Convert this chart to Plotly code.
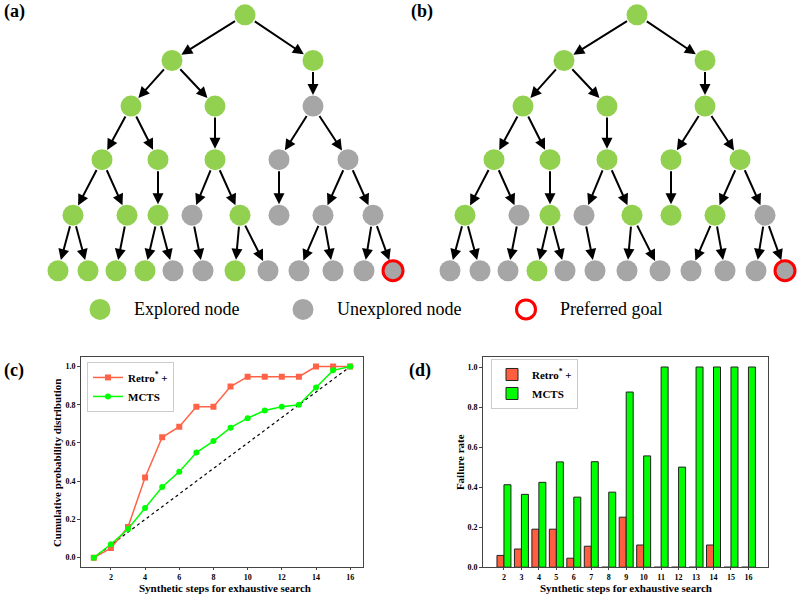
import plotly.graph_objects as go

# ---------------- data ----------------
steps_c = list(range(1, 17))
retro_cdf = [0.0, 0.05, 0.16, 0.42, 0.63, 0.685, 0.79, 0.79, 0.895, 0.947, 0.947, 0.947, 0.947, 1.0, 1.0, 1.0]
mcts_cdf = [0.0, 0.07, 0.15, 0.26, 0.37, 0.45, 0.55, 0.61, 0.68, 0.73, 0.77, 0.79, 0.80, 0.89, 0.98, 1.0]
diag_x = [1, 16]
diag_y = [0.0, 1.0]

steps_d = list(range(2, 17))
retro_fail = [0.059, 0.091, 0.19, 0.19, 0.045, 0.105, 0.0, 0.25, 0.111, 0.0, 0.0, 0.0, 0.111, 0.0, 0.0]
mcts_fail = [0.412, 0.364, 0.424, 0.526, 0.35, 0.527, 0.375, 0.875, 0.556, 1.0, 0.5, 1.0, 1.0, 1.0, 1.0]

# tree structure (same for panels a and b)
parents = [None, 0, 0, 1, 1, 2, 3, 3, 4, 5, 5, 6, 6, 7, 8, 8, 9, 10, 10,
           11, 11, 12, 13, 13, 14, 15, 15, 17, 17, 18, 18]
depth = [0, 1, 1, 2, 2, 2, 3, 3, 3, 3, 3, 4, 4, 4, 4, 4, 4, 4, 4,
         5, 5, 5, 5, 5, 5, 5, 5, 5, 5, 5, 5]
explored_a = [1, 1, 1, 1, 1, 0, 1, 1, 1, 0, 0, 1, 1, 1, 0, 1, 0, 0, 0,
              1, 1, 1, 1, 0, 0, 1, 0, 0, 0, 0, 0]
explored_b = [1, 1, 1, 1, 1, 1, 1, 1, 1, 1, 1, 1, 0, 1, 0, 1, 1, 1, 0,
              0, 0, 0, 1, 0, 0, 0, 0, 0, 0, 0, 0]
goal_node = 30
legend_labels = ["Explored node", "Unexplored node", "Preferred goal"]

# ---------------- diagram layout (drawing units) ----------------
node_x = [245, 172, 313, 131, 215, 313, 102, 158, 215, 279, 348, 73, 127, 158, 192, 240, 279, 323, 373,
          58, 88, 116, 145, 173, 203, 235, 268, 299, 333, 364, 393]
level_y = [15, 61, 107, 161, 217, 273]
tree_offsets = [0, 392]
GREEN = "#92D050"
GREY = "#A6A6A6"
RED = "#FF0000"
SERIF = "Liberation Serif"

fig = go.Figure()

annotations = []
for off, expl in zip(tree_offsets, [explored_a, explored_b]):
    xs = [x + off for x in node_x]
    ys = [level_y[d] for d in depth]
    for i, p in enumerate(parents):
        if p is None:
            continue
        annotations.append(dict(
            x=xs[i], y=ys[i], ax=xs[p], ay=ys[p],
            xref="x3", yref="y3", axref="x3", ayref="y3",
            text="", showarrow=True, arrowhead=2, arrowsize=1.1, arrowwidth=2,
            arrowcolor="black", standoff=11, startstandoff=10))
    fig.add_trace(go.Scatter(
        x=xs, y=ys, mode="markers", xaxis="x3", yaxis="y3", showlegend=False,
        hoverinfo="skip",
        marker=dict(size=21, opacity=1, color=[GREEN if e else GREY for e in expl], line=dict(width=0))))
    fig.add_trace(go.Scatter(
        x=[xs[goal_node]], y=[ys[goal_node]], mode="markers", xaxis="x3", yaxis="y3",
        showlegend=False, hoverinfo="skip",
        marker=dict(size=20, opacity=1, color=GREY if not expl[goal_node] else GREEN,
                    line=dict(width=3, color=RED))))

# diagram legend row
leg_x = [100, 303, 526]
leg_y = 312
fig.add_trace(go.Scatter(
    x=leg_x, y=[leg_y] * 3, mode="markers", xaxis="x3", yaxis="y3", showlegend=False,
    hoverinfo="skip",
    marker=dict(size=[21, 21, 19], opacity=1, color=[GREEN, GREY, "white"],
                line=dict(width=[0, 0, 3], color=[GREEN, GREY, RED]))))
for lx, lab in zip(leg_x, legend_labels):
    annotations.append(dict(x=lx + 32, y=leg_y, xref="x3", yref="y3", text=lab, showarrow=False,
                            xanchor="left", yanchor="middle",
                            font=dict(family=SERIF, size=18, color="black")))

# ---------------- panel (c) ----------------
RED_C = "#FF6347"
LIME = "#00FF00"
fig.add_trace(go.Scatter(x=diag_x, y=diag_y, mode="lines", showlegend=False, hoverinfo="skip",
                         line=dict(color="black", width=1.2, dash="dot"), xaxis="x", yaxis="y"))
fig.add_trace(go.Scatter(x=steps_c, y=retro_cdf, mode="lines+markers", name="Retro<sup>*</sup> +",
                         line=dict(color=RED_C, width=1.5),
                         marker=dict(symbol="square", size=6, color=RED_C),
                         xaxis="x", yaxis="y", legend="legend"))
fig.add_trace(go.Scatter(x=steps_c, y=mcts_cdf, mode="lines+markers", name="MCTS",
                         line=dict(color=LIME, width=1.5),
                         marker=dict(symbol="circle", size=6, color=LIME),
                         xaxis="x", yaxis="y", legend="legend"))

# ---------------- panel (d) ----------------
fig.add_trace(go.Bar(x=steps_d, y=retro_fail, name="Retro<sup>*</sup> +",
                     marker=dict(color="#FF5F3F", line=dict(color="#222222", width=1)),
                     xaxis="x2", yaxis="y2", legend="legend2"))
fig.add_trace(go.Bar(x=steps_d, y=mcts_fail, name="MCTS",
                     marker=dict(color=LIME, line=dict(color="#222222", width=1)),
                     xaxis="x2", yaxis="y2", legend="legend2"))

tickfont = dict(family=SERIF, size=8, color="black", weight="bold")
axis_common = dict(showline=True, mirror=True, linecolor="#444444", linewidth=1, ticks="outside",
                   tickcolor="#444444", showgrid=False, zeroline=False, tickfont=tickfont)

H = 599.0
W = 800.0
dom_y = [1 - 572 / H, 1 - 360 / H]

fig.update_layout(
    width=800, height=599, margin=dict(l=0, r=0, t=0, b=0),
    paper_bgcolor="white", plot_bgcolor="white",
    barmode="group", bargap=0.2, bargroupgap=0.0,
    xaxis=dict(domain=[81 / W, 363 / W], range=[0.25, 16.75], tickvals=list(range(2, 17, 2)),
               anchor="y", ticklen=2, **axis_common),
    yaxis=dict(domain=dom_y, range=[-0.05, 1.05], tickvals=[0, 0.2, 0.4, 0.6, 0.8, 1.0],
               tickformat=".1f", anchor="x", ticklen=3, **axis_common),
    xaxis2=dict(domain=[483 / W, 768 / W], range=[0.8, 17.12], tickvals=steps_d,
                anchor="y2", ticklen=2, **axis_common),
    yaxis2=dict(domain=dom_y, range=[0, 1.05], tickvals=[0, 0.2, 0.4, 0.6, 0.8, 1.0],
                tickformat=".1f", anchor="x2", ticklen=3, **axis_common),
    xaxis3=dict(domain=[0, 1], range=[0, 800], visible=False, anchor="y3", fixedrange=True),
    yaxis3=dict(domain=[1 - 340 / H, 1], range=[340, 0], visible=False, anchor="x3", fixedrange=True),
    legend=dict(x=87 / W, y=1 - 365 / H, xanchor="left", yanchor="top",
                bgcolor="white", bordercolor="#CCCCCC", borderwidth=1,
                font=dict(family=SERIF, size=11, color="black", weight="bold"),
                tracegroupgap=0, itemwidth=30),
    legend2=dict(x=491 / W, y=1 - 362 / H, xanchor="left", yanchor="top",
                 bgcolor="white", bordercolor="#CCCCCC", borderwidth=1,
                 font=dict(family=SERIF, size=11, color="black", weight="bold"),
                 tracegroupgap=0, itemwidth=30),
)

label_font = dict(family=SERIF, size=11, color="black", weight="bold")
panel_font = dict(family=SERIF, size=18, color="black", weight="bold")


def pa(x, y, text, font, angle=0):
    return dict(x=x / W, y=1 - y / H, xref="paper", yref="paper", text=text, showarrow=False,
                xanchor="center", yanchor="middle", textangle=angle, font=font)


annotations += [
    pa(14, 12, "(a)", panel_font),
    pa(422, 12, "(b)", panel_font),
    pa(14, 374, "(c)", panel_font),
    pa(420, 374, "(d)", panel_font),
    pa(225, 592.5, "Synthetic steps for exhaustive search", label_font),
    pa(626, 592.5, "Synthetic steps for exhaustive search", label_font),
    pa(57, 466, "Cumulative probability distribution", label_font, -90),
    pa(460, 466, "Failure rate", label_font, -90),
]
fig.update_layout(annotations=annotations)

fig.write_html("out.html", config={"displayModeBar": False},
               post_script="document.body.style.margin='0';document.body.style.overflow='hidden';")
